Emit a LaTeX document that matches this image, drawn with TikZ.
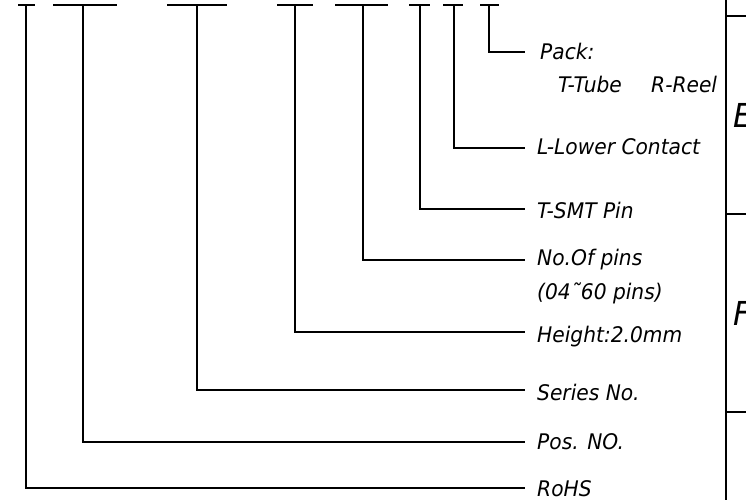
\documentclass[tikz,border=0pt]{standalone}
\usepackage{fontspec}
\setmainfont{DejaVu Sans}[FakeStretch=0.94]
\begin{document}
\begin{tikzpicture}[x=1pt,y=-1pt,
  ln/.style={line width=1.3pt,black},
  bar/.style={line width=1.8pt,black},
  lbl/.style={anchor=base west,inner sep=0pt,font=\fontsize{21.5}{24}\selectfont\itshape},
  big/.style={anchor=base west,inner sep=0pt,font=\fontsize{33}{36}\selectfont\itshape}]
\useasboundingbox (0,0) rectangle (746,500);
% top bars
\coordinate (b1a) at (18,5); \coordinate (b1b) at (35,5);
\coordinate (b2a) at (53,5); \coordinate (b2b) at (117,5);
\coordinate (b3a) at (167,5); \coordinate (b3b) at (227,5);
\coordinate (b4a) at (277,5); \coordinate (b4b) at (313,5);
\coordinate (b5a) at (335,5); \coordinate (b5b) at (388,5);
\coordinate (b6a) at (409,5); \coordinate (b6b) at (430,5);
\coordinate (b7a) at (443,5); \coordinate (b7b) at (463,5);
\coordinate (b8a) at (480,5); \coordinate (b8b) at (499,5);
\foreach \i in {1,...,8} {\draw[bar] (b\i a) -- (b\i b);}
% tops of verticals
\coordinate (t1) at (26,5);
\coordinate (t2) at (83,5);
\coordinate (t3) at (197,5);
\coordinate (t4) at (295,5);
\coordinate (t5) at (363,5);
\coordinate (t6) at (420,5);
\coordinate (t7) at (454,5);
\coordinate (t8) at (489,5);
% line ends
\coordinate (e1) at (525,488);
\coordinate (e2) at (525,442);
\coordinate (e3) at (525,390);
\coordinate (e4) at (525,332);
\coordinate (e5) at (525,260);
\coordinate (e6) at (525,209);
\coordinate (e7) at (525,148);
\coordinate (e8) at (525,52);
\foreach \i in {1,...,8} {\draw[ln] (t\i) |- (e\i);}
% labels
\node[lbl] (l8) at (540,60) {Pack:};
\node[lbl] (l8a) at (558,93) {T-Tube};
\node[lbl] (l8b) at (651,93) {R-Reel};
\node[lbl] (l7) at (537,154) {L-Lower Contact};
\node[lbl] (l6) at (537,218) {T-SMT Pin};
\node[lbl] (l5) at (537,265) {No.Of pins};
\node[lbl] (l5a) at (537,299) {(04˜60 pins)};
\node[lbl] (l4) at (537,342) {Height:2.0mm};
\node[lbl] (l3) at (537,400) {Series No.};
\node[lbl] (l2) at (537,449) {Pos. NO.};
\node[lbl] (l1) at (537,496) {RoHS};
% right frame
\draw[ln] (726,0) -- (726,500);
\draw[ln] (726,16) -- (746,16);
\draw[ln] (726,214) -- (746,214);
\draw[ln] (726,412) -- (746,412);
\node[big] (E) at (733,128) {E};
\node[big] (F) at (733,325) {F};
\end{tikzpicture}
\end{document}
